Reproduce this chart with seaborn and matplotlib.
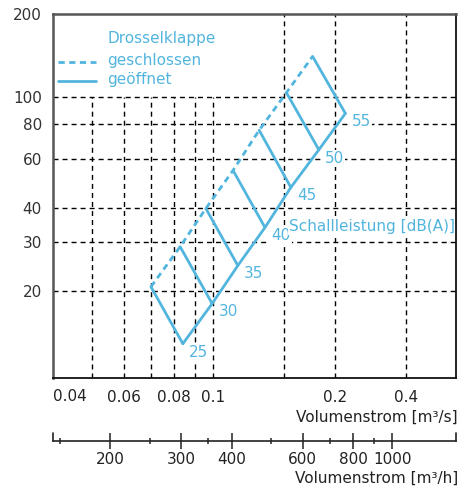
import matplotlib
matplotlib.use("Agg")
import matplotlib.pyplot as plt
from matplotlib.ticker import NullFormatter, NullLocator
import pandas as pd
import seaborn as sns

sns.set_theme(style="white")
plt.rcParams["font.family"] = ["DejaVu Sans"]
plt.rcParams["font.size"] = 11
plt.rcParams["lines.scale_dashes"] = False

# Kennlinie: Schallleistung [dB(A)] an den Eckpunkten
levels = [25, 30, 35, 40, 45, 50, 55]
flow_closed = [0.0700, 0.0827, 0.0958, 0.1119, 0.1299, 0.1518, 0.1763]
dp_closed = [20.7, 28.9, 39.7, 54.5, 76.1, 104.0, 140.6]
flow_open = [0.0840, 0.0993, 0.1150, 0.1343, 0.1557, 0.1827, 0.2126]
dp_open = [12.9, 18.0, 24.7, 33.9, 47.3, 64.7, 87.5]

# Achsen
y_ticks = [20, 30, 40, 60, 80, 100, 200]
y_grid = [20, 30, 40, 60, 80, 100]
x_grid_low = [0.05, 0.06, 0.07, 0.08, 0.09, 0.1]
x_grid_full = [0.15, 0.2, 0.3]
x_ticks = [0.06, 0.08, 0.1, 0.2, 0.3, 0.4]
x_ticklabels = ["0.06", "0.08", "0.1", "0.2", "0.4", ""]
h_major = [200, 300, 400, 600, 800, 1000]
h_minor = [150, 250, 350, 500, 700, 900]

blue = "#52B5DE"
grid_dash = (0, (3.6, 2.9))
label_box = dict(facecolor="white", edgecolor="none", pad=0.8)

fig = plt.figure(figsize=(4.66, 4.91), dpi=100)
ax = fig.add_axes([53 / 466, 113 / 491, 403 / 466, 364 / 491])
ax.set_xscale("log")
ax.set_yscale("log")
ax.set_xlim(0.04, 0.4)
ax.set_ylim(9.7, 200)

# Gitter
for y in y_grid:
    ax.axhline(y, color="black", lw=1.0, ls=grid_dash, zorder=1)
for x in x_grid_low:
    ax.vlines(x, 9.7, 100, color="black", lw=1.0, ls=grid_dash, zorder=1)
for x in x_grid_full:
    ax.axvline(x, color="black", lw=1.0, ls=grid_dash, zorder=1)

# Kennlinien
sns.lineplot(x=flow_closed, y=dp_closed, color=blue, lw=2.0, ax=ax,
             estimator=None, sort=False, zorder=3).lines[-1].set_linestyle((0, (4.5, 3.2)))
sns.lineplot(x=flow_open, y=dp_open, color=blue, lw=2.0, ax=ax,
             estimator=None, sort=False, zorder=3)

iso = pd.DataFrame({
    "level": levels + levels,
    "flow": flow_closed + flow_open,
    "dp": dp_closed + dp_open,
})
sns.lineplot(data=iso, x="flow", y="dp", units="level", estimator=None,
             sort=False, color=blue, lw=2.0, ax=ax, zorder=3)

for lvl, x, y in zip(levels, flow_open, dp_open):
    ax.annotate(str(lvl), (x, y), xytext=(4.5, -6), textcoords="offset points",
                ha="left", va="center", color=blue, fontsize=11,
                bbox=label_box, zorder=2)

ax.text(0.154, 34.3, "Schallleistung [dB(A)]", color=blue, fontsize=11,
        ha="left", va="center", zorder=2, bbox=label_box)

# Legende
ax.plot([0.0124, 0.1067], [0.868, 0.868], transform=ax.transAxes, color=blue,
        lw=2.0, ls=(0, (4.5, 3.2)), clip_on=False)
ax.plot([0.0124, 0.1067], [0.816, 0.816], transform=ax.transAxes, color=blue,
        lw=2.0, clip_on=False)
ax.text(0.134, 0.933, "Drosselklappe", transform=ax.transAxes, color=blue,
        ha="left", va="center", fontsize=11)
ax.text(0.134, 0.871, "geschlossen", transform=ax.transAxes, color=blue,
        ha="left", va="center", fontsize=11)
ax.text(0.134, 0.819, "geöffnet", transform=ax.transAxes, color=blue,
        ha="left", va="center", fontsize=11)

# Ticks
ax.set_yticks(y_ticks, labels=[str(v) for v in y_ticks])
ax.set_xticks(x_ticks, labels=x_ticklabels)
ax.xaxis.set_minor_locator(NullLocator())
ax.yaxis.set_minor_locator(NullLocator())
ax.xaxis.set_minor_formatter(NullFormatter())
ax.yaxis.set_minor_formatter(NullFormatter())
ax.tick_params(axis="x", which="major", direction="out", length=6.5, width=1.2,
               pad=2, colors="#222222", labelsize=11)
ax.tick_params(axis="y", which="major", direction="out", length=6, width=1.2,
               pad=2, colors="#333333", labelsize=11)
ax.text(0.0, -0.052, "0.04", transform=ax.transAxes, ha="left", va="center",
        fontsize=11, color="#222222")
ax.set_xlabel("")
ax.set_ylabel("")
ax.text(1.005, -0.107, "Volumenstrom [m³/s]", transform=ax.transAxes,
        ha="right", va="center", fontsize=11, color="#222222")

for side in ["top", "left"]:
    ax.spines[side].set_color("#555555")
    ax.spines[side].set_linewidth(1.8)
for side in ["bottom", "right"]:
    ax.spines[side].set_color("#111111")
    ax.spines[side].set_linewidth(1.3)

# zweite Achse in m³/h
sec = ax.secondary_xaxis(-0.172, functions=(lambda q: q * 3600, lambda q: q / 3600))
sec.set_xticks(h_major, labels=[str(v) for v in h_major])
sec.set_xticks(h_minor, minor=True)
sec.xaxis.set_minor_formatter(NullFormatter())
sec.tick_params(axis="x", which="major", direction="inout", length=12, width=1.1,
                pad=2, colors="#222222", labelsize=11)
sec.tick_params(axis="x", which="minor", direction="inout", length=5, width=1.1,
                colors="#222222")
sec.spines["bottom"].set_color("#222222")
sec.spines["bottom"].set_linewidth(1.2)
for xe in [0.0, 1.0]:
    ax.plot([xe, xe], [-0.172, -0.152], transform=ax.transAxes, color="#222222",
            lw=1.2, clip_on=False)
ax.text(1.005, -0.275, "Volumenstrom [m³/h]", transform=ax.transAxes,
        ha="right", va="center", fontsize=11, color="#222222")

fig.savefig("out.png", dpi=100)
